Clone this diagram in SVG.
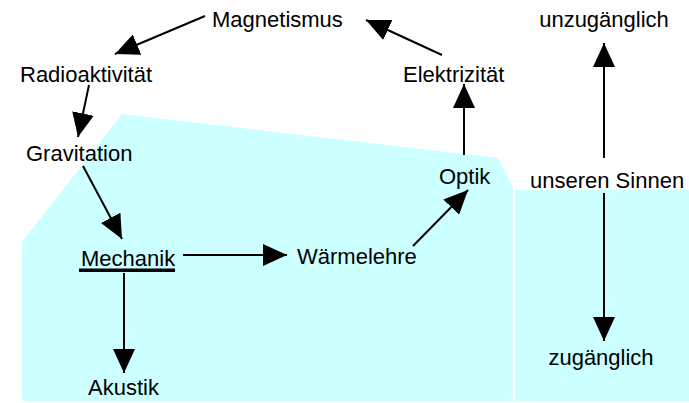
<svg xmlns="http://www.w3.org/2000/svg" width="689" height="403" viewBox="0 0 689 403">
<style>
  text { font-family: "Liberation Sans", Arial, sans-serif; font-size: 22px; fill: #000; }
  .conn line { stroke: #000; stroke-width: 2; marker-end: url(#ah); }
  .area { fill: #CCFFFF; stroke: none; }
</style>
<defs>
  <marker id="ah" markerUnits="userSpaceOnUse" markerWidth="24" markerHeight="22" refX="24" refY="11" orient="auto">
    <path d="M0,0 L24,11 L0,22 z" fill="#000"/>
  </marker>
</defs>
<rect width="689" height="403" fill="#fff"/>
<g id="areas">
  <polygon class="area" points="22,242 122,114 498,158 513,188 513,401 22,401"/>
  <polygon class="area" points="515,190 689,190 689,401 515,401"/>
</g>
<g class="conn" id="connectors">
  <line x1="205" y1="16" x2="115" y2="54"/>
  <line x1="89" y1="85" x2="78" y2="137"/>
  <line x1="83" y1="166" x2="122" y2="239"/>
  <line x1="183" y1="255" x2="287" y2="255"/>
  <line x1="124" y1="273" x2="124" y2="373"/>
  <line x1="413" y1="246" x2="468" y2="190"/>
  <line x1="464" y1="155" x2="464" y2="84"/>
  <line x1="442" y1="55" x2="366" y2="20"/>
  <line x1="604" y1="158" x2="604" y2="43"/>
  <line x1="604" y1="193" x2="604" y2="341"/>
</g>
<g id="magnetismus"><text x="212" y="27">Magnetismus</text></g>
<g id="radioaktivitaet"><text x="20" y="82">Radioaktivität</text></g>
<g id="gravitation"><text x="26" y="161">Gravitation</text></g>
<g id="mechanik"><text x="81" y="266">Mechanik</text><rect x="79" y="268.5" width="96" height="3.5" fill="#000"/></g>
<g id="akustik"><text x="88" y="395">Akustik</text></g>
<g id="waermelehre"><text x="297" y="264">Wärmelehre</text></g>
<g id="optik"><text x="439" y="184">Optik</text></g>
<g id="elektrizitaet"><text x="403" y="82">Elektrizität</text></g>
<g id="unzugaenglich"><text x="604" y="27" text-anchor="middle">unzugänglich</text></g>
<g id="unseren-sinnen"><text x="530" y="188">unseren Sinnen</text></g>
<g id="zugaenglich"><text x="601" y="365" text-anchor="middle">zugänglich</text></g>
</svg>
